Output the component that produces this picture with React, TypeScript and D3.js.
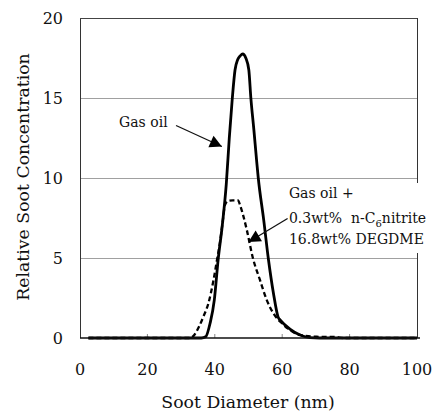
import React from "react";
import * as d3 from "d3";

// ---- data ----
const gasOilD = [2.5, 36, 37.3, 38.6, 39.85, 41.0, 42.2, 43.4, 44.3, 45.2, 46.0, 46.8, 47.6, 48.3, 49.2, 50.1, 50.7, 51.6, 52.4, 52.9, 54.5, 55.9, 57.4, 58.8, 59.5, 62.3, 65.3, 68.2, 71.2, 100];
const gasOilV = [0, 0, 0.08, 0.92, 2.37, 4.92, 7.0, 9.6, 12.5, 15.0, 16.75, 17.4, 17.65, 17.75, 17.5, 16.75, 15.0, 13.0, 11.1, 10.0, 7.4, 4.94, 2.8, 1.3, 1.1, 0.56, 0.19, 0.03, 0, 0];

const blendD = [2.5, 32.5, 33.6, 35.3, 36.6, 38.1, 39.6, 40.7, 41.5, 42.3, 43.0, 43.9, 45.4, 46.9, 47.5, 48.5, 49.5, 51.3, 53.4, 55.4, 57.4, 59.9, 62.3, 65.3, 70.2, 76, 78, 100];
const blendV = [0, 0, 0.12, 0.7, 1.33, 2.17, 3.6, 4.94, 5.92, 7.2, 8.3, 8.56, 8.6, 8.6, 8.3, 7.6, 6.75, 5.0, 3.63, 2.38, 1.54, 0.92, 0.5, 0.19, 0.08, 0.06, 0, 0];

const xTicks = [0, 20, 40, 60, 80, 100];
const yTicks = [0, 5, 10, 15, 20];
const xTitle = "Soot Diameter (nm)";
const yTitle = "Relative Soot Concentration";
const label1 = "Gas oil";
const label2Lines = ["Gas oil +", "0.3wt%\u00a0\u00a0n-C", "16.8wt% DEGDME"];

const W = 432;
const H = 412;
const FONT = "'DejaVu Serif', serif";

export default function App() {
  const x = d3.scaleLinear().domain([0, 100]).range([80, 417]);
  const y = d3.scaleLinear().domain([0, 20]).range([338, 18]);

  const line = d3
    .line<[number, number]>()
    .x((p) => x(p[0]))
    .y((p) => y(p[1]))
    .curve(d3.curveMonotoneX);

  const gasPts = gasOilD.map((d, i) => [d, gasOilV[i]] as [number, number]);
  const blendPts = blendD.map((d, i) => [d, blendV[i]] as [number, number]);

  const arrowHead = (x1: number, y1: number, x2: number, y2: number, len = 12, hw = 6.2) => {
    const a = Math.atan2(y2 - y1, x2 - x1);
    const bx = x2 - len * Math.cos(a);
    const by = y2 - len * Math.sin(a);
    const px = -Math.sin(a) * hw;
    const py = Math.cos(a) * hw;
    return `${x2},${y2} ${bx + px},${by + py} ${bx - px},${by - py}`;
  };

  // annotation anchors (data units)
  const a1s = [28.5, 13.28];
  const a1t = [42.1, 11.97];
  const a2s = [61.6, 7.47];
  const a2t = [50.0, 6.0];

  const [x1s, y1s, x1t, y1t] = [x(a1s[0]), y(a1s[1]), x(a1t[0]), y(a1t[1])];
  const [x2s, y2s, x2t, y2t] = [x(a2s[0]), y(a2s[1]), x(a2t[0]), y(a2t[1])];

  return (
    <svg width={W} height={H} style={{ position: "absolute", left: 0, top: 0, background: "#fff" }}>
      <rect x={0} y={0} width={W} height={H} fill="#fff" />
      {/* grid */}
      {yTicks.filter((t) => t > 0 && t < 20).map((t) => (
        <line key={t} x1={x(0)} x2={x(100)} y1={y(t) + 0.5} y2={y(t) + 0.5} stroke="#a0a0a0" strokeWidth={1} />
      ))}
      {/* frame */}
      <line x1={x(0) + 0.5} x2={x(0) + 0.5} y1={y(20)} y2={y(0)} stroke="#333" strokeWidth={1} />
      <line x1={x(0)} x2={x(100)} y1={y(20) + 0.5} y2={y(20) + 0.5} stroke="#444" strokeWidth={1} />
      <line x1={x(100) + 0.5} x2={x(100) + 0.5} y1={y(20)} y2={y(0)} stroke="#333" strokeWidth={1} />
      {/* x ticks (inward) */}
      {xTicks.filter((t) => t > 0 && t < 100).map((t) => (
        <line key={t} x1={x(t)} x2={x(t)} y1={y(0)} y2={y(0) - 4} stroke="#888" strokeWidth={1} />
      ))}
      {/* series */}
      <path d={line(blendPts) || ""} fill="none" stroke="#000" strokeWidth={2.3} strokeDasharray="5,3" />
      <path d={line(gasPts) || ""} fill="none" stroke="#000" strokeWidth={2.8} strokeLinejoin="round" />
      {/* bottom axis */}
      <line x1={x(0)} x2={x(100) + 3} y1={y(0)} y2={y(0)} stroke="#111" strokeWidth={1.5} />
      {/* tick labels */}
      {xTicks.map((t) => (
        <text key={t} x={x(t)} y={y(0) + 37} textAnchor="middle" fontFamily={FONT} fontSize={16} fill="#111">
          {t}
        </text>
      ))}
      {yTicks.map((t) => (
        <text key={t} x={63} y={y(t) + 6} textAnchor="end" fontFamily={FONT} fontSize={16} fill="#111">
          {t}
        </text>
      ))}
      {/* titles */}
      <text x={248} y={408} textAnchor="middle" fontFamily={FONT} fontSize={17.3} fill="#111">
        {xTitle}
      </text>
      <text
        transform={`translate(29,177) rotate(-90)`}
        textAnchor="middle"
        fontFamily={FONT}
        fontSize={17.3}
        fill="#111"
      >
        {yTitle}
      </text>
      {/* annotation 1 */}
      <text x={x(11.6)} y={y(13.5) + 5} fontFamily={FONT} fontSize={14} fill="#111">
        {label1}
      </text>
      <line x1={x1s} y1={y1s} x2={x1t} y2={y1t} stroke="#111" strokeWidth={1.3} />
      <polygon points={arrowHead(x1s, y1s, x1t, y1t)} fill="#000" />
      {/* annotation 2 */}
      <rect x={x(61.3)} y={183} width={W - x(61.3)} height={70} fill="#fff" />
      <g fontFamily={FONT} fontSize={14} fill="#111">
        <text x={x(62.0)} y={y(9.04) + 5}>{label2Lines[0]}</text>
        <text x={x(62.0)} y={y(7.52) + 5}>
          {label2Lines[1]}
          <tspan fontSize={10} dy={4}>6</tspan>
          <tspan dy={-4}>nitrite</tspan>
        </text>
        <text x={x(62.0)} y={y(6.17) + 5}>{label2Lines[2]}</text>
      </g>
      <line x1={x2s} y1={y2s} x2={x2t} y2={y2t} stroke="#111" strokeWidth={1.3} />
      <polygon points={arrowHead(x2s, y2s, x2t, y2t)} fill="#000" />
    </svg>
  );
}
